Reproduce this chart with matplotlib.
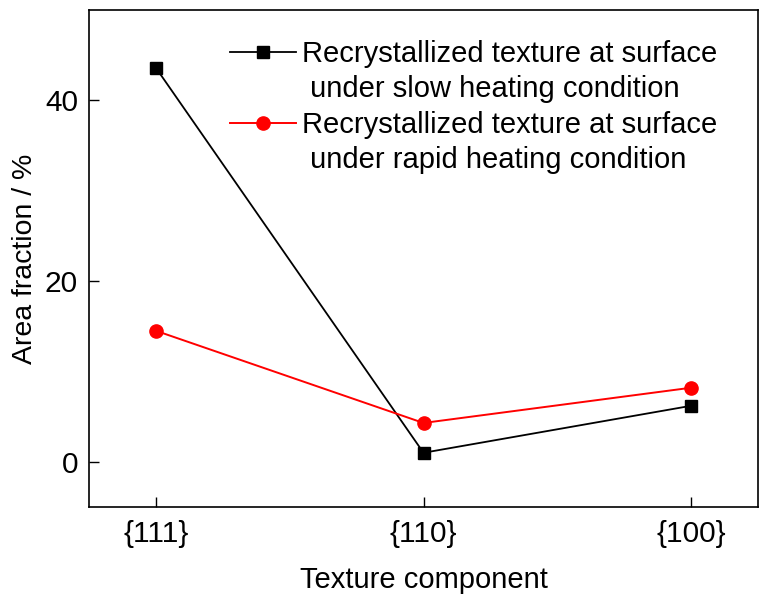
import matplotlib
matplotlib.use("Agg")
import matplotlib.pyplot as plt
import numpy as np
from matplotlib.legend_handler import HandlerLine2D

plt.rcParams['font.family'] = ['Liberation Sans', 'DejaVu Sans']

categories = ['{111}', '{110}', '{100}']
slow_heating = [43.6, 1.0, 6.2]
rapid_heating = [14.5, 4.3, 8.2]
label_slow = 'Recrystallized texture at surface\n under slow heating condition'
label_rapid = 'Recrystallized texture at surface\n under rapid heating condition'


class FirstLineHandler(HandlerLine2D):
    """Align the legend handle with the first text line."""
    def __init__(self, shift=14.6, **kw):
        super().__init__(**kw)
        self.shift = shift

    def create_artists(self, legend, orig_handle, xdescent, ydescent,
                       width, height, fontsize, trans):
        arts = super().create_artists(legend, orig_handle, xdescent, ydescent,
                                      width, height, fontsize, trans)
        for a in arts:
            a.set_ydata(np.asarray(a.get_ydata()) + self.shift)
        return arts


fig = plt.figure(figsize=(7.68, 6.0), dpi=100)
ax = fig.add_axes([89/768, 1-507/600, (758-89)/768, (507-10)/600])

x = list(range(len(categories)))
l1, = ax.plot(x, slow_heating, color='black', lw=1.3, marker='s', markersize=8.5,
              label=label_slow)
l2, = ax.plot(x, rapid_heating, color='red', lw=1.4, marker='o', markersize=9.5,
              label=label_rapid)

ax.set_xlim(-0.25, 2.25)
ax.set_ylim(-5, 50)
ax.set_xticks(x)
ax.set_xticklabels(categories)
ax.set_yticks([0, 20, 40])
ax.tick_params(direction='in', length=7, width=1, labelsize=21.5, pad=8,
               top=False, right=False)
ax.tick_params(axis='x', pad=9)
for s in ax.spines.values():
    s.set_linewidth(1.2)

ax.set_xlabel('Texture component', fontsize=21, labelpad=13)
ax.set_ylabel('Area fraction / %', fontsize=20.5, labelpad=5)

leg = ax.legend(loc='upper left', bbox_to_anchor=((230-89)/669, 0.94), frameon=False,
                fontsize=21, handlelength=2.25, handletextpad=0.22, borderpad=0,
                borderaxespad=0, labelspacing=0.3,
                handler_map={l1: FirstLineHandler(), l2: FirstLineHandler()})
for t in leg.get_texts():
    t.set_linespacing(1.31)

fig.savefig('out.png', dpi=100)
